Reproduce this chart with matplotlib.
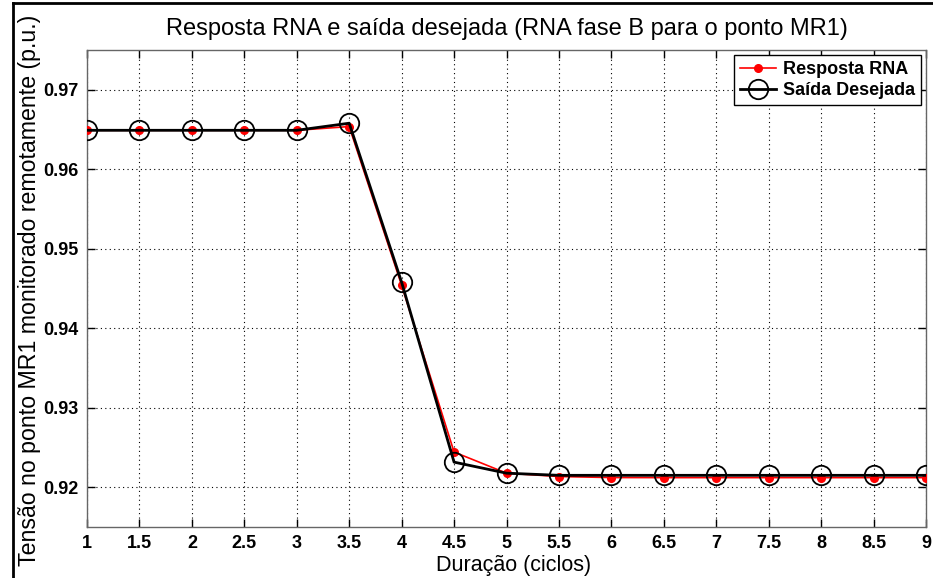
import matplotlib
matplotlib.use("Agg")
import matplotlib.pyplot as plt
from matplotlib.lines import Line2D

plt.rcParams['font.family'] = ['Liberation Sans', 'DejaVu Sans']

# duração em ciclos
ciclos = [1, 1.5, 2, 2.5, 3, 3.5, 4, 4.5, 5, 5.5, 6, 6.5, 7, 7.5, 8, 8.5, 9]
resposta_rna = [0.9649, 0.9649, 0.9649, 0.9649, 0.9649, 0.96537, 0.9454, 0.92443,
                0.92177, 0.92135, 0.92122, 0.92121, 0.92121, 0.92121, 0.92121,
                0.92121, 0.92121]
saida_desejada = [0.9649, 0.9649, 0.9649, 0.9649, 0.9649, 0.96579, 0.94579, 0.92316,
                  0.92177, 0.92150, 0.92150, 0.92150, 0.92150, 0.92150, 0.92150,
                  0.92150, 0.92150]
x_ticks = [1, 1.5, 2, 2.5, 3, 3.5, 4, 4.5, 5, 5.5, 6, 6.5, 7, 7.5, 8, 8.5, 9]
y_ticks = [0.92, 0.93, 0.94, 0.95, 0.96, 0.97]

fig = plt.figure(figsize=(9.33, 5.78), dpi=100)
ax = fig.add_axes([87 / 933, 1 - 527 / 578, (926 - 87) / 933, (527 - 50) / 578])

ax.plot(ciclos, resposta_rna, color="red", linewidth=1.2, marker="o",
        markersize=5.5, markerfacecolor="red", markeredgecolor="red",
        label="Resposta RNA", zorder=3)
ax.plot(ciclos, saida_desejada, color="black", linewidth=2.0, marker="o",
        markersize=14, markerfacecolor="none", markeredgecolor="black",
        markeredgewidth=1.3, label="Saída Desejada", zorder=4)

ax.set_xlim(1, 9)
ax.set_ylim(0.915, 0.975)
ax.set_xticks(x_ticks)
ax.set_xticklabels(["%g" % t for t in x_ticks], fontweight="bold", fontsize=13)
ax.set_yticks(y_ticks)
ax.set_yticklabels(["%.2f" % t for t in y_ticks], fontweight="bold", fontsize=13)
ax.tick_params(direction="in", top=True, right=True, length=6, width=1,
               color="black", pad=6)
ax.grid(True, linestyle=(0, (1, 3)), color="black", linewidth=0.8)
for s in ax.spines.values():
    s.set_color("#666666")
    s.set_linewidth(1)

ax.set_title("Resposta RNA e saída desejada (RNA fase B para o ponto MR1)",
             fontsize=17, pad=11)
ax.set_xlabel("Duração (ciclos)", fontsize=15.5)
ax.xaxis.set_label_coords(0.509, -0.058)
ax.set_ylabel("Tensão no ponto MR1 monitorado remotamente (p.u.)", fontsize=16.7)
ax.yaxis.set_label_coords(-0.055, 0.497)

leg = ax.legend(loc="upper right", prop={"weight": "bold", "size": 13},
                fancybox=False, edgecolor="black", framealpha=1,
                borderaxespad=0.3, handlelength=2.0, borderpad=0.3,
                labelspacing=0.25, handletextpad=0.4)
leg.get_frame().set_linewidth(1)

# moldura da figura (esquerda e topo)
fig.add_artist(Line2D([13 / 933, 13 / 933], [0, 1 - 3 / 578], color="black",
                      linewidth=2, transform=fig.transFigure))
fig.add_artist(Line2D([13 / 933, 1], [1 - 3 / 578, 1 - 3 / 578], color="black",
                      linewidth=2, transform=fig.transFigure))

fig.savefig("out.png", dpi=100)
